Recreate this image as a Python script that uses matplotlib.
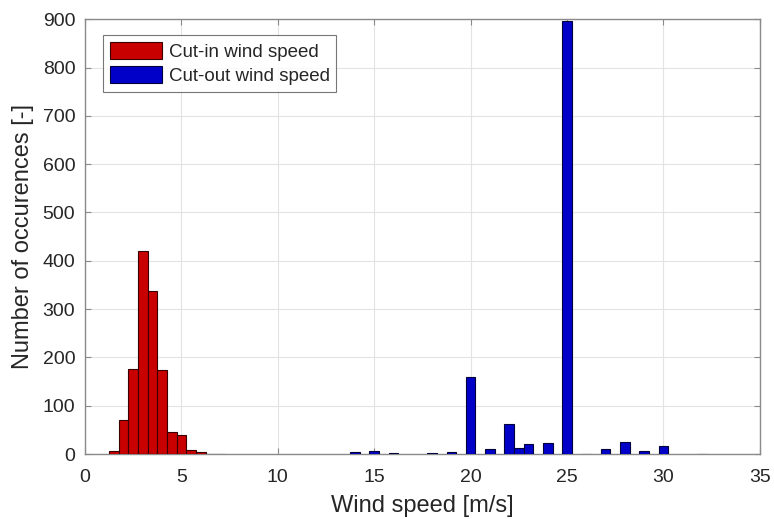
import matplotlib
matplotlib.use("Agg")
import matplotlib.pyplot as plt
import numpy as np

plt.rcParams['font.family'] = ['Liberation Sans', 'DejaVu Sans']

# Cut-in wind speed histogram (bin centres, counts)
cutin_centers = [1.5, 2.0, 2.5, 3.0, 3.5, 4.0, 4.5, 5.0, 5.5, 6.0, 6.5, 7.0]
cutin_counts = [7, 70, 175, 421, 338, 174, 46, 39, 8, 4, 1, 1]

# Cut-out wind speed histogram (bin centres, counts)
cutout_centers = [14, 15, 16, 18, 19, 20, 21, 22, 22.5, 23, 24, 25, 26, 27, 28, 29, 30, 32]
cutout_counts = [4, 6, 3, 3, 4, 159, 10, 63, 12, 21, 22, 896, 1, 10, 25, 6, 17, 1]

bin_width = 0.5
xticks = [0, 5, 10, 15, 20, 25, 30, 35]
yticks = [0, 100, 200, 300, 400, 500, 600, 700, 800, 900]

text_color = '#262626'
spine_color = '#8a8a8a'

fig = plt.figure(figsize=(7.74, 5.19), dpi=100)
ax = fig.add_axes([0.1098, 0.1252, 0.872, 0.8378])

ax.bar(cutin_centers, cutin_counts, width=bin_width, color='#c80000',
       edgecolor='#3a0000', linewidth=0.8, label='Cut-in wind speed', zorder=3)
ax.bar(cutout_centers, cutout_counts, width=bin_width, color='#0000c8',
       edgecolor='#00003a', linewidth=0.8, label='Cut-out wind speed', zorder=3)

ax.set_xlim(0, 35)
ax.set_ylim(0, 900)
ax.set_xticks(xticks)
ax.set_yticks(yticks)
ax.grid(True, color='#e3e3e3', linewidth=0.8, zorder=0)
ax.set_axisbelow(True)

for s in ax.spines.values():
    s.set_color(spine_color)
    s.set_linewidth(1.0)

ax.tick_params(axis='both', which='both', direction='in', length=4,
               color=spine_color, labelsize=14, labelcolor=text_color,
               top=True, right=True, pad=7)
ax.tick_params(axis='x', pad=11)

ax.set_xlabel('Wind speed [m/s]', fontsize=17, color=text_color, labelpad=6)
ax.set_ylabel('Number of occurences [-]', fontsize=17, color=text_color, labelpad=6)

leg = ax.legend(loc='upper left', bbox_to_anchor=(0.027, 0.963), fontsize=13.5,
                frameon=True, fancybox=False, handlelength=2.8, handleheight=1.0,
                borderpad=0.35, labelspacing=0.3, handletextpad=0.35,
                borderaxespad=0.0)
leg.get_frame().set_edgecolor('#555555')
leg.get_frame().set_linewidth(0.8)
for t in leg.get_texts():
    t.set_color(text_color)

fig.savefig('out.png', dpi=100)
